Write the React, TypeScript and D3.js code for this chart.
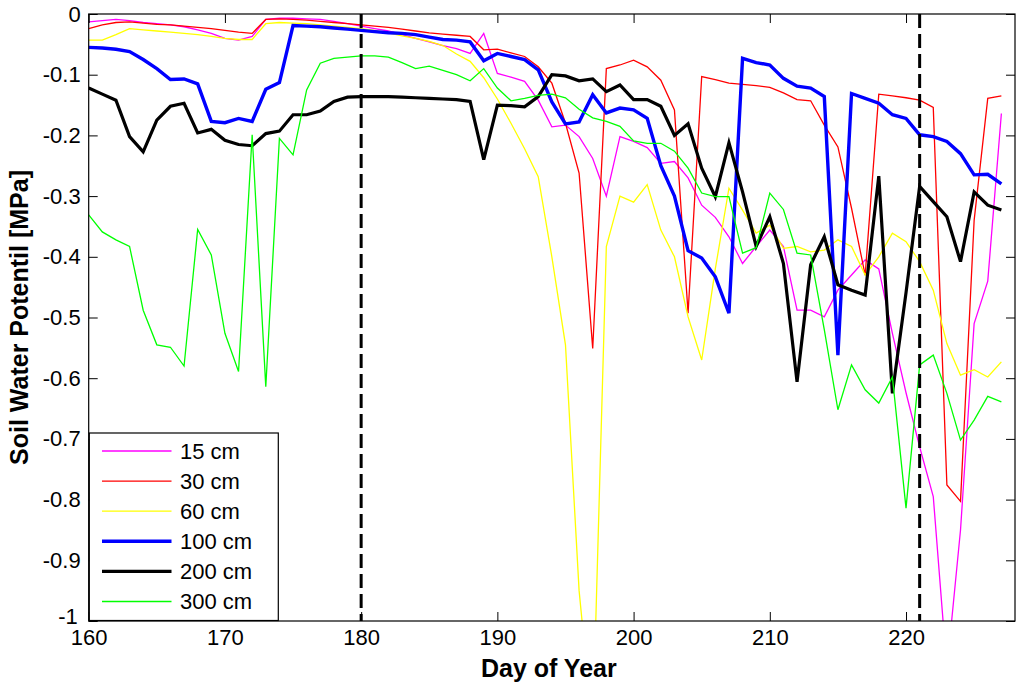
import { useEffect, useRef } from "react";
import * as d3 from "d3";

// days of year (x)
const days = [
  160, 161, 162, 163, 164, 165, 166, 167, 168, 169, 170, 171, 172, 173, 174, 175, 176, 177,
  178, 179, 180, 181, 182, 183, 184, 185, 186, 187, 188, 189, 190, 191, 192, 193, 194, 195,
  196, 197, 198, 199, 200, 201, 202, 203, 204, 205, 206, 207, 208, 209, 210, 211, 212, 213,
  214, 215, 216, 217, 218, 219, 220, 221, 222, 223, 224, 225, 226, 227,
];

const cm15 = [
  -0.013, -0.011, -0.009, -0.011, -0.014, -0.016, -0.018, -0.021, -0.026, -0.032, -0.04, -0.043,
  -0.037, -0.009, -0.007, -0.007, -0.008, -0.009, -0.012, -0.016, -0.02, -0.024, -0.028, -0.034,
  -0.04, -0.046, -0.052, -0.057, -0.065, -0.032, -0.098, -0.104, -0.111, -0.142, -0.186, -0.183,
  -0.202, -0.238, -0.3, -0.202, -0.21, -0.22, -0.246, -0.243, -0.27, -0.315, -0.335, -0.367,
  -0.411, -0.383, -0.356, -0.383, -0.488, -0.488, -0.499, -0.455, -0.43, -0.405, -0.42, -0.526,
  -0.624, -0.713, -0.795, -1.08, -0.85, -0.51, -0.44, -0.164,
];

const cm30 = [
  -0.024, -0.018, -0.014, -0.013, -0.015, -0.017, -0.018, -0.02, -0.022, -0.024, -0.027, -0.03,
  -0.032, -0.009, -0.008, -0.009, -0.01, -0.012, -0.014, -0.016, -0.018, -0.02, -0.022, -0.025,
  -0.028, -0.031, -0.033, -0.035, -0.037, -0.059, -0.058, -0.064, -0.07, -0.087, -0.114, -0.18,
  -0.262, -0.551, -0.09, -0.084, -0.076, -0.087, -0.109, -0.158, -0.493, -0.103, -0.108, -0.114,
  -0.116, -0.118, -0.121, -0.13, -0.141, -0.143, -0.183, -0.219, -0.32, -0.43, -0.132, -0.135,
  -0.138, -0.142, -0.154, -0.776, -0.803, -0.34, -0.139, -0.135,
];

const cm60 = [
  -0.043, -0.043, -0.034, -0.024, -0.026, -0.028, -0.03, -0.032, -0.034, -0.037, -0.04, -0.042,
  -0.042, -0.016, -0.014, -0.015, -0.016, -0.018, -0.02, -0.022, -0.024, -0.027, -0.031, -0.036,
  -0.04, -0.045, -0.052, -0.066, -0.078, -0.105, -0.14, -0.18, -0.222, -0.268, -0.4, -0.545,
  -0.95, -1.18, -0.383, -0.3, -0.31, -0.281, -0.356, -0.4, -0.499, -0.57, -0.42, -0.287,
  -0.323, -0.361, -0.348, -0.386, -0.383, -0.392, -0.389, -0.372, -0.383, -0.43, -0.4, -0.361,
  -0.375, -0.408, -0.455, -0.543, -0.595, -0.586, -0.598, -0.573,
];

const cm100 = [
  -0.055, -0.056, -0.058, -0.062, -0.075, -0.09, -0.108, -0.107, -0.115, -0.177, -0.179, -0.172,
  -0.177, -0.124, -0.113, -0.019, -0.02, -0.021, -0.023, -0.025, -0.027, -0.029, -0.031, -0.032,
  -0.034, -0.038, -0.042, -0.043, -0.046, -0.077, -0.065, -0.07, -0.075, -0.092, -0.145, -0.181,
  -0.178, -0.133, -0.163, -0.155, -0.158, -0.172, -0.25, -0.3, -0.39, -0.402, -0.433, -0.493,
  -0.073, -0.08, -0.084, -0.106, -0.119, -0.122, -0.136, -0.562, -0.131, -0.139, -0.147, -0.166,
  -0.172, -0.199, -0.202, -0.21, -0.23, -0.265, -0.264, -0.28,
];

const cm200 = [
  -0.122, -0.132, -0.142, -0.202, -0.227, -0.175, -0.152, -0.147, -0.196, -0.19, -0.208, -0.215,
  -0.217, -0.197, -0.193, -0.166, -0.166, -0.16, -0.144, -0.137, -0.136, -0.136, -0.136, -0.137,
  -0.138, -0.139, -0.14, -0.141, -0.144, -0.24, -0.15, -0.151, -0.153, -0.136, -0.1, -0.102,
  -0.11, -0.107, -0.128, -0.117, -0.141, -0.141, -0.152, -0.2, -0.181, -0.254, -0.301, -0.212,
  -0.293, -0.383, -0.334, -0.411, -0.606, -0.413, -0.367, -0.446, -0.455, -0.463, -0.267, -0.625,
  -0.459, -0.284, -0.309, -0.334, -0.408, -0.293, -0.315, -0.323,
];

const cm300 = [
  -0.331, -0.359, -0.372, -0.383, -0.488, -0.545, -0.549, -0.58, -0.355, -0.397, -0.526, -0.589,
  -0.199, -0.614, -0.205, -0.232, -0.125, -0.081, -0.073, -0.071, -0.069, -0.069, -0.071, -0.08,
  -0.09, -0.086, -0.093, -0.1, -0.11, -0.09, -0.122, -0.143, -0.139, -0.134, -0.132, -0.138,
  -0.157, -0.171, -0.177, -0.185, -0.209, -0.213, -0.213, -0.226, -0.254, -0.295, -0.301, -0.301,
  -0.394, -0.385, -0.295, -0.322, -0.394, -0.397, -0.52, -0.652, -0.578, -0.619, -0.641, -0.598,
  -0.814, -0.578, -0.562, -0.625, -0.702, -0.669, -0.63, -0.639,
];

const seriesNames = ["15 cm", "30 cm", "60 cm", "100 cm", "200 cm", "300 cm"];
const seriesValues = [cm15, cm30, cm60, cm100, cm200, cm300];
const seriesColors = ["#ff00ff", "#ff0000", "#ffff00", "#0000ff", "#000000", "#00ff00"];
const seriesWidths = [1.3, 1.3, 1.3, 3.4, 3.2, 1.3];

const xTicks = [160, 170, 180, 190, 200, 210, 220];
const yTicks = [0, -0.1, -0.2, -0.3, -0.4, -0.5, -0.6, -0.7, -0.8, -0.9, -1];
const markerDays = [180, 221];

const FONT = "'Liberation Sans', Arial, Helvetica, sans-serif";

const App = () => {
  const svgRef = useRef(null);

  useEffect(() => {
    const W = 1024;
    const H = 687;
    const left = 88.7;
    const right = 1015;
    const top = 14;
    const bottom = 621;

    const svg = d3.select(svgRef.current);
    svg.selectAll("*").remove();
    svg.attr("width", W).attr("height", H);

    const x = d3.scaleLinear().domain([160, 228]).range([left, right]);
    const y = d3.scaleLinear().domain([-1, 0]).range([bottom, top]);

    svg
      .append("defs")
      .append("clipPath")
      .attr("id", "plotClip")
      .append("rect")
      .attr("x", left)
      .attr("y", top)
      .attr("width", right - left)
      .attr("height", bottom - top);

    svg
      .append("rect")
      .attr("x", 0)
      .attr("y", 0)
      .attr("width", W)
      .attr("height", H)
      .attr("fill", "#ffffff");

    // series
    const line = d3
      .line<number>()
      .x((_, i) => x(days[i]))
      .y((d) => y(d));

    const plot = svg.append("g").attr("clip-path", "url(#plotClip)");
    seriesValues.forEach((vals, i) => {
      plot
        .append("path")
        .datum(vals)
        .attr("fill", "none")
        .attr("stroke", seriesColors[i])
        .attr("stroke-width", seriesWidths[i])
        .attr("stroke-linejoin", "miter")
        .attr("d", line);
    });

    // dashed day markers
    plot
      .selectAll("line.marker")
      .data(markerDays)
      .enter()
      .append("line")
      .attr("x1", (d) => x(d))
      .attr("x2", (d) => x(d))
      .attr("y1", top)
      .attr("y2", bottom)
      .attr("stroke", "#000")
      .attr("stroke-width", 3)
      .attr("stroke-dasharray", "14,6");

    // axes (ticks pointing inward)
    const axisStyle = (g) => {
      g.select(".domain").remove();
      g.selectAll("line").attr("stroke", "#000");
      g.selectAll("text").attr("fill", "#000").attr("font-size", 22).attr("font-family", FONT);
    };

    svg
      .append("g")
      .attr("transform", `translate(0,${bottom})`)
      .call(d3.axisBottom(x).tickValues(xTicks).tickSizeInner(-9).tickSizeOuter(0).tickPadding(8).tickFormat((d) => String(d)))
      .call(axisStyle);

    svg
      .append("g")
      .attr("transform", `translate(0,${top})`)
      .call(d3.axisTop(x).tickValues(xTicks).tickSizeInner(-9).tickSizeOuter(0).tickFormat(() => ""))
      .call(axisStyle);

    const yAxisG = svg
      .append("g")
      .attr("transform", `translate(${left},0)`)
      .call(d3.axisLeft(y).tickValues(yTicks).tickSizeInner(-9).tickSizeOuter(0).tickPadding(8).tickFormat((d) => String(+(+d).toFixed(1))))
      .call(axisStyle);

    // the "-1" label sits a little higher and left, as in the original
    yAxisG
      .selectAll(".tick text")
      .filter((d) => +d === -1)
      .attr("y", -5)
      .attr("x", -11);

    svg
      .append("g")
      .attr("transform", `translate(${right},0)`)
      .call(d3.axisRight(y).tickValues(yTicks).tickSizeInner(-9).tickSizeOuter(0).tickFormat(() => ""))
      .call(axisStyle);

    svg
      .append("rect")
      .attr("x", left)
      .attr("y", top)
      .attr("width", right - left)
      .attr("height", bottom - top)
      .attr("fill", "none")
      .attr("stroke", "#000")
      .attr("stroke-width", 1.2);

    // axis titles
    svg
      .append("text")
      .attr("x", (left + right) / 2 - 3)
      .attr("y", 677)
      .attr("text-anchor", "middle")
      .attr("font-family", FONT)
      .attr("font-weight", "bold")
      .attr("font-size", 25)
      .text("Day of Year");

    svg
      .append("text")
      .attr("transform", `translate(28,${(top + bottom) / 2}) rotate(-90)`)
      .attr("text-anchor", "middle")
      .attr("font-family", FONT)
      .attr("font-weight", "bold")
      .attr("font-size", 25)
      .text("Soil Water Potentil [MPa]");

    // legend
    const legend = svg.append("g");
    legend
      .append("rect")
      .attr("x", 89.3)
      .attr("y", 433)
      .attr("width", 189)
      .attr("height", 187.5)
      .attr("fill", "#fff")
      .attr("stroke", "#000")
      .attr("stroke-width", 1.2);

    const rowY = (i) => 451 + i * 30.1;
    seriesNames.forEach((name, i) => {
      legend
        .append("line")
        .attr("x1", 102)
        .attr("x2", 171.5)
        .attr("y1", rowY(i))
        .attr("y2", rowY(i))
        .attr("stroke", seriesColors[i])
        .attr("stroke-width", seriesWidths[i]);
      legend
        .append("text")
        .attr("x", 180)
        .attr("y", rowY(i))
        .attr("dy", "0.36em")
        .attr("font-family", FONT)
        .attr("font-size", 22)
        .attr("fill", "#000")
        .text(name);
    });
  }, []);

  return (
    <div style={{ position: "absolute", left: 0, top: 0 }}>
      <svg ref={svgRef} style={{ display: "block" }}></svg>
    </div>
  );
};

export default App;
